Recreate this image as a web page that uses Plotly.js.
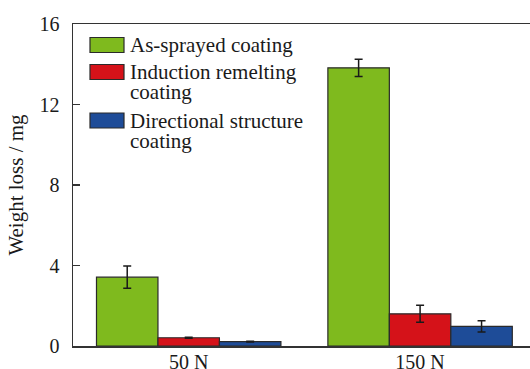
<!DOCTYPE html>
<html>
<head>
<meta charset="utf-8">
<script src="https://cdn.plot.ly/plotly-3.0.1.min.js"></script>
<style>html,body{margin:0;padding:0;background:#fff;}#chart{width:530px;height:369px;}</style>
</head>
<body>
<div id="chart"></div>
<script>
const categories = ["50 N", "150 N"];
const seriesNames = ["As-sprayed coating", "Induction remelting coating", "Directional structure coating"];
const legendLines = [["As-sprayed coating"], ["Induction remelting", "coating"], ["Directional structure", "coating"]];
const asSprayed = [3.42, 13.82];
const asSprayedErr = [0.55, 0.43];
const inductionRemelting = [0.41, 1.60];
const inductionRemeltingErr = [0.03, 0.42];
const directionalStructure = [0.22, 0.98];
const directionalStructureErr = [0.02, 0.28];
const yTicks = [0, 4, 8, 12, 16];

const colors = ["#7fba1e", "#d51219", "#1e4c98"];
const values = [asSprayed, inductionRemelting, directionalStructure];
const errs = [asSprayedErr, inductionRemeltingErr, directionalStructureErr];

const font = "Liberation Serif";

const traces = values.map((v, i) => ({
  type: "bar",
  name: seriesNames[i],
  x: categories,
  y: v,
  marker: {color: colors[i], line: {color: "#2a2a2a", width: 1.2}},
  error_y: {type: "data", array: errs[i], visible: true, color: "#1a1a1a", thickness: 1.5, width: 4},
  showlegend: false
}));

// plot area in pixels
const L = 73, R = 530, T = 24, B = 346;
const px = x => (x - L) / (R - L);
const py = y => (B - y) / (B - T);

const shapes = [];
const annotations = [];
const swatchCenters = [45, 72, 120.5];
const lineStep = 20;
legendLines.forEach((lines, i) => {
  const cy = swatchCenters[i];
  shapes.push({type: "rect", xref: "paper", yref: "paper",
    x0: px(90), x1: px(124), y0: py(cy - 7.5), y1: py(cy + 7.5),
    fillcolor: colors[i], line: {color: "#2a2a2a", width: 1.2}});
  lines.forEach((t, j) => {
    annotations.push({xref: "paper", yref: "paper", x: px(128), y: py(cy + j * lineStep),
      xanchor: "left", yanchor: "middle", showarrow: false, text: t,
      font: {family: font, size: 21, color: "#1a1a1a"}});
  });
});

const layout = {
  width: 530, height: 369,
  margin: {l: L, r: 0, t: T, b: 369 - B, pad: 0},
  paper_bgcolor: "#fff", plot_bgcolor: "#fff",
  barmode: "group", bargap: 0.203, bargroupgap: 0,
  font: {family: font, color: "#1a1a1a", size: 20},
  xaxis: {
    type: "category", range: [-0.5, 1.475],
    showline: true, linecolor: "#333", linewidth: 1.5, mirror: true,
    ticks: "", ticklen: 0, ticklabelstandoff: -3, showgrid: false, zeroline: false,
    tickfont: {family: font, size: 20, color: "#1a1a1a"}
  },
  yaxis: {
    range: [0, 16], tickvals: yTicks, ticktext: yTicks.map(String),
    showline: true, linecolor: "#333", linewidth: 1.5,
    ticks: "inside", ticklen: 7, tickwidth: 1.2, tickcolor: "#333",
    ticklabelstandoff: 8,
    showgrid: false, zeroline: false,
    tickfont: {family: font, size: 20, color: "#1a1a1a"},
    title: {text: "Weight loss / mg", font: {family: font, size: 21, color: "#1a1a1a"}, standoff: 10}
  },
  shapes: shapes,
  annotations: annotations,
  showlegend: false
};

Plotly.newPlot("chart", traces, layout, {displayModeBar: false, staticPlot: true});
</script>
</body>
</html>
